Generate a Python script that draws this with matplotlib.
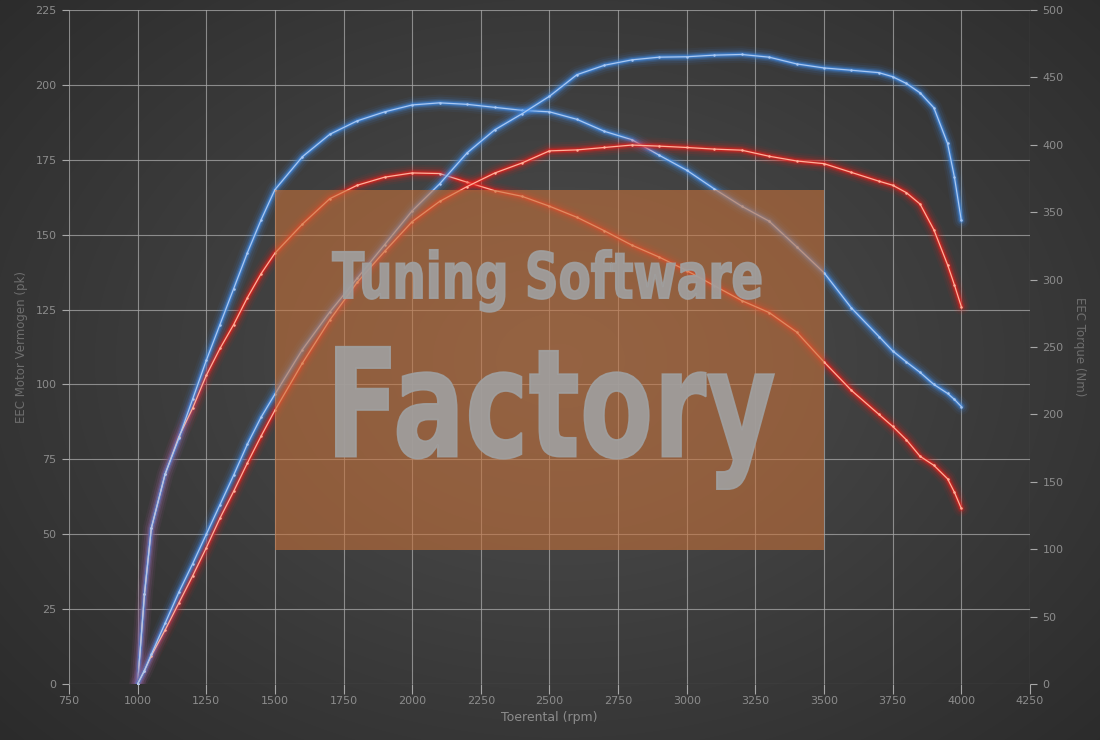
import numpy as np
import matplotlib
matplotlib.use("Agg")
import matplotlib.pyplot as plt
from matplotlib.patches import Rectangle, PathPatch
from matplotlib.textpath import TextPath
from matplotlib.font_manager import FontProperties
from matplotlib.transforms import Affine2D

# Engine speed (rpm)
rpm = [1000, 1025, 1050, 1100, 1150, 1200, 1250, 1300, 1350, 1400, 1450, 1500,
       1600, 1700, 1800, 1900, 2000, 2100, 2200, 2300, 2400, 2500, 2600, 2700,
       2800, 2900, 3000, 3100, 3200, 3300, 3400, 3500, 3600, 3700, 3750, 3800,
       3850, 3900, 3950, 3975, 4000]

# Power (pk)
vermogen_tuning = [0, 30, 52, 70, 82, 95, 108, 120, 132, 144, 155, 165,
                   176, 183.5, 188, 191, 193.3, 194, 193.5, 192.5, 191.5, 191, 188.5, 184.5,
                   181.7, 176.5, 171.5, 165.3, 159.5, 154.5, 146, 137.3, 125.5, 116, 111.2, 107.5,
                   104, 100, 97, 95, 92.6]
vermogen_origineel = [0, 30, 52, 70, 82.5, 92, 103, 112, 120, 129, 137, 143.8,
                      153.5, 162, 166.5, 169.2, 170.6, 170.4, 167.5, 164.7, 162.8, 159.5, 155.8, 151.3,
                      146.5, 142.5, 138, 133, 128, 124, 117.5, 107.5, 98, 90, 86, 81.5,
                      76, 73, 68.5, 64, 58.6]

# Torque (Nm)
koppel_tuning = [0, 10, 22, 45, 68, 89, 111, 133, 155, 178, 198, 215,
                 248, 276, 301, 326, 351, 371, 394, 411, 423, 436, 452, 459,
                 463, 465, 465.3, 466.5, 467, 465, 460, 457, 455.3, 453.5, 450.5, 445.5,
                 438.5, 427.5, 401, 376, 344]
koppel_origineel = [0, 10, 21, 40, 60, 80, 101, 123, 143, 164, 184, 203,
                    238, 270, 298, 321, 343, 358, 369, 379, 386.5, 395.5, 396.2, 398,
                    399.8, 399, 398, 396.8, 396, 391.5, 388, 386, 379.5, 373, 370, 364.5,
                    356, 337, 311, 296, 280]

x_ticks = list(range(750, 4251, 250))
pk_ticks = list(range(0, 226, 25))
nm_ticks = list(range(0, 501, 50))

label_color = "#8c8c8c"
grid_color = "#a8a8a8"

fig = plt.figure(figsize=(11, 7.4), dpi=100)

# radial background gradient
bg = fig.add_axes([0, 0, 1, 1], zorder=-10)
yy, xx = np.mgrid[0:740, 0:1100]
r = np.sqrt(((xx - 560) / 700.0) ** 2 + ((yy - 360) / 520.0) ** 2)
shade = np.clip(0.31 - 0.13 * r, 0.17, 0.31)
bg.imshow(np.dstack([shade] * 3), aspect="auto", extent=[0, 1, 0, 1], origin="upper")
bg.set_axis_off()

ax = fig.add_axes([0.0627, 0.0757, 0.8736, 0.9108])
ax.set_facecolor("none")
ax.set_xlim(750, 4250)
ax.set_ylim(0, 225)
ax.set_xticks(x_ticks)
ax.set_yticks(pk_ticks)
ax.grid(True, color=grid_color, lw=0.8, alpha=0.75, zorder=1)
ax.set_axisbelow(True)
for s in ax.spines.values():
    s.set_visible(False)
ax.tick_params(axis="x", colors=grid_color, length=7, width=0.8, labelcolor=label_color,
               labelsize=8, pad=2)
ax.tick_params(axis="y", colors=grid_color, length=5, width=0.8, labelcolor=label_color,
               labelsize=8, pad=4)
ax.set_xlabel("Toerental (rpm)", color=label_color, fontsize=9, labelpad=3)
ax.set_ylabel("EEC Motor Vermogen (pk)", color="#6e6e6e", fontsize=8.5, labelpad=5)

ax2 = ax.twinx()
ax2.set_ylim(0, 500)
ax2.set_yticks(nm_ticks)
for s in ax2.spines.values():
    s.set_visible(False)
ax2.tick_params(axis="y", colors=grid_color, length=5, width=0.8, labelcolor=label_color,
                labelsize=8, pad=4)
ax2.set_ylabel("EEC Torque (Nm)", color="#6e6e6e", fontsize=8.5, rotation=270, labelpad=16)


def glow_line(axis, x, y, glow, core):
    for w, a in [(12, 0.06), (9, 0.10), (6, 0.18), (4, 0.32), (2.4, 0.55)]:
        axis.plot(x, y, color=glow, lw=w, alpha=a, solid_capstyle="round",
                  solid_joinstyle="round", zorder=3)
    axis.plot(x, y, color=core, lw=0.9, zorder=4, marker="o", ms=1.8, mew=0)


blue_glow, blue_core = "#3f8be6", "#a9c8f2"
red_glow, red_core = "#e8201c", "#ffb09a"

glow_line(ax2, rpm, koppel_origineel, red_glow, red_core)
glow_line(ax2, rpm, koppel_tuning, blue_glow, blue_core)
glow_line(ax, rpm, vermogen_origineel, red_glow, red_core)
glow_line(ax, rpm, vermogen_tuning, blue_glow, blue_core)

# watermark panel, placed on the top (torque) axes so it covers every curve
k = 500 / 225
ax2.add_patch(Rectangle((1500, 44.7 * k), 2000, (165 - 44.7) * k,
                        facecolor="#c9723a", edgecolor="none", alpha=0.58, zorder=6))


def fitted_text(axis, text, x0, x1, base, cap, color):
    fp = FontProperties(family="DejaVu Sans", weight="bold")
    tp = TextPath((0, 0), text, size=1, prop=fp)
    cap_h = TextPath((0, 0), "T", size=1, prop=fp).get_extents().y1
    bb = tp.get_extents()
    sx = (x1 - x0) / bb.width
    sy = (cap - base) / cap_h
    tr = Affine2D().translate(-bb.x0, 0).scale(sx, sy).translate(x0, base) + axis.transData
    axis.add_patch(PathPatch(tp, transform=tr, facecolor=color, edgecolor=color,
                             lw=1.2, alpha=0.9, zorder=7))


fitted_text(ax2, "Tuning Software", 1710, 3270, 128.8 * k, 144.3 * k, "#a0a0a0")
fitted_text(ax2, "Factory", 1722, 3318, 75.9 * k, 112.6 * k, "#a0a0a0")

fig.savefig("out.png", dpi=100)
